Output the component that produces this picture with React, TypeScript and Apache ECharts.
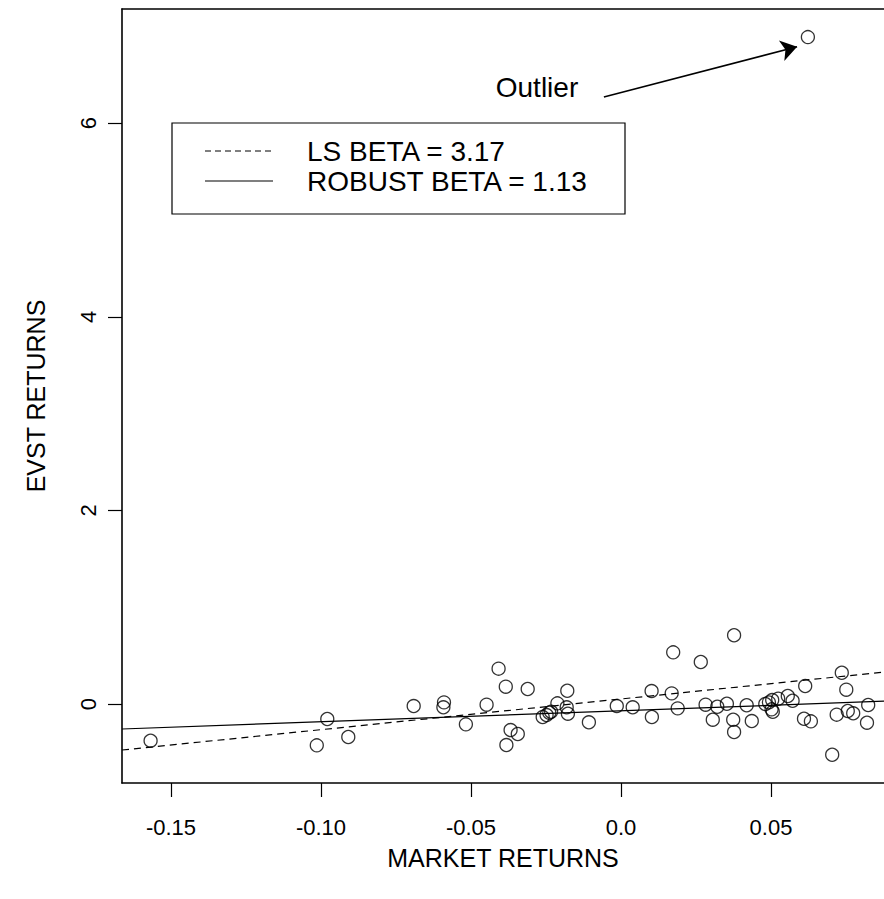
import React, { useEffect, useRef } from "react";
import * as echarts from "echarts";

const marketReturns = [
  -0.1568, -0.0979, -0.1014, -0.0909, -0.0691, -0.059, -0.0592, -0.0517, -0.0448, -0.0408,
  -0.0384, -0.0368, -0.0344, -0.0382, -0.0311, -0.0261, -0.0248, -0.0239, -0.0233, -0.0212,
  -0.0179, -0.0181, -0.0177, -0.0107, -0.0014, 0.0039, 0.0102, 0.0103, 0.0174, 0.0169,
  0.0189, 0.0266, 0.0282, 0.0306, 0.0321, 0.0353, 0.0377, 0.0374, 0.0377, 0.0419,
  0.0436, 0.0481, 0.0493, 0.0504, 0.0502, 0.0506, 0.0524, 0.0556, 0.0572, 0.0614,
  0.061, 0.0633, 0.0704, 0.0719, 0.0736, 0.0751, 0.0756, 0.0774, 0.0824, 0.082, 0.0623,
];
const evstReturns = [
  -0.379, -0.155, -0.427, -0.341, -0.021, 0.017, -0.034, -0.21, -0.007, 0.365,
  0.179, -0.269, -0.31, -0.424, 0.155, -0.134, -0.114, -0.09, -0.08, 0.007,
  0.137, -0.034, -0.1, -0.189, -0.021, -0.034, 0.134, -0.134, 0.534, 0.11,
  -0.045, 0.434, -0.007, -0.162, -0.028, 0.003, 0.71, -0.162, -0.289, -0.013,
  -0.176, 0.0, 0.017, 0.041, -0.055, -0.08, 0.055, 0.083, 0.034, 0.186,
  -0.152, -0.179, -0.524, -0.11, 0.323, 0.148, -0.072, -0.096, -0.01, -0.193, 6.89,
];

const xTickValues = [-0.15, -0.1, -0.05, 0, 0.05];
const xTickLabels = ["-0.15", "-0.10", "-0.05", "0.0", "0.05"];
const yTickValues = [0, 2, 4, 6];
const yTickLabels = ["0", "2", "4", "6"];

const lineNames = ["LS BETA = 3.17", "ROBUST BETA = 1.13"];
const lineIntercepts = [0.052, -0.07];
const lineSlopes = [3.17, 1.13];
const lineDash = [[7, 5], "solid"];

const xRange = [-0.16633, 0.08767];
const yRange = [-0.816, 7.18];

const outlierLabel = "Outlier";
const arrowFrom = [-0.0057, 6.27];
const arrowTo = [0.0587, 6.79];

const FONT = "'Liberation Sans', Arial, Helvetica, sans-serif";

function labelFor(values: number[], labels: string[], v: number) {
  const i = values.findIndex((t) => Math.abs(t - v) < 1e-9);
  return i >= 0 ? labels[i] : "";
}

export default function App() {
  const ref = useRef<HTMLDivElement>(null);
  useEffect(() => {
    document.body.style.margin = "0";
    if (!ref.current) return;
    const chart = echarts.init(ref.current, null, { renderer: "svg" });
    const points = marketReturns.map((x, i) => [x, evstReturns[i]]);
    const fitSeries = lineNames.map((name, k) => ({
      name,
      type: "line",
      symbol: "none",
      silent: true,
      data: xRange.map((x) => [x, lineIntercepts[k] + lineSlopes[k] * x]),
      lineStyle: { color: "#000", width: 1.2, type: lineDash[k] as any },
      z: 3,
    }));
    const textStyle = { color: "#000", fontFamily: FONT };
    const frameLine = { show: true, onZero: false, lineStyle: { color: "#000", width: 1.6 } };
    chart.setOption({
      animation: false,
      backgroundColor: "#fff",
      grid: { left: 122, right: 0, top: 9, bottom: 116 },
      xAxis: [
        {
          type: "value",
          position: "bottom",
          min: xRange[0],
          max: xRange[1],
          axisLine: frameLine,
          splitLine: { show: false },
          axisTick: {
            show: true,
            inside: false,
            length: 14,
            customValues: xTickValues,
            lineStyle: { color: "#000", width: 1.2 },
          },
          axisLabel: {
            customValues: xTickValues,
            formatter: (v: number) => labelFor(xTickValues, xTickLabels, v),
            margin: 33,
            fontSize: 22,
            ...textStyle,
          },
          name: "MARKET RETURNS",
          nameLocation: "middle",
          nameGap: 62,
          nameTextStyle: { fontSize: 25, ...textStyle },
        },
        {
          type: "value",
          position: "top",
          min: xRange[0],
          max: xRange[1],
          axisLine: frameLine,
          splitLine: { show: false },
          axisTick: { show: false },
          axisLabel: { show: false },
        },
      ],
      yAxis: {
        type: "value",
        min: yRange[0],
        max: yRange[1],
        axisLine: frameLine,
        splitLine: { show: false },
        axisTick: {
          show: true,
          inside: false,
          length: 14,
          customValues: yTickValues,
          lineStyle: { color: "#000", width: 1.2 },
        },
        axisLabel: {
          customValues: yTickValues,
          formatter: (v: number) => labelFor(yTickValues, yTickLabels, v),
          rotate: 90,
          margin: 23,
          fontSize: 22,
          ...textStyle,
        },
        name: "EVST RETURNS",
        nameLocation: "middle",
        nameGap: 74,
        nameTextStyle: { fontSize: 25, ...textStyle },
      },
      series: [
        {
          type: "scatter",
          data: points,
          symbol: "circle",
          symbolSize: 13,
          silent: true,
          itemStyle: { color: "transparent", borderColor: "#000", borderWidth: 1.3 },
          z: 4,
          markLine: {
            silent: true,
            symbol: ["none", "arrow"],
            symbolSize: 16,
            label: { show: false },
            lineStyle: { color: "#000", width: 1.6, type: "solid" },
            data: [[{ coord: arrowFrom }, { coord: arrowTo }]],
          },
        },
        ...fitSeries,
      ],
      graphic: [
        {
          type: "rect",
          shape: { x: 172, y: 123, width: 453, height: 91 },
          style: { fill: "#fff", stroke: "#000", lineWidth: 1.2 },
          z: 10,
        },
        {
          type: "line",
          shape: { x1: 205, y1: 151, x2: 273, y2: 151 },
          style: { stroke: "#000", lineWidth: 1.2, lineDash: [6, 4] },
          z: 11,
        },
        {
          type: "line",
          shape: { x1: 205, y1: 181, x2: 273, y2: 181 },
          style: { stroke: "#000", lineWidth: 1.2 },
          z: 11,
        },
        ...lineNames.map((name, k) => ({
          type: "text",
          x: 307,
          y: 151 + 30 * k,
          style: {
            text: name,
            font: `28px ${FONT}`,
            fill: "#000",
            textAlign: "left",
            textVerticalAlign: "middle",
            align: "left",
            verticalAlign: "middle",
          },
          z: 11,
        })),
        {
          type: "text",
          x: 537,
          y: 87,
          style: {
            text: outlierLabel,
            font: `28px ${FONT}`,
            fill: "#000",
            textAlign: "center",
            textVerticalAlign: "middle",
            align: "center",
            verticalAlign: "middle",
          },
          z: 11,
        },
      ],
    });
    return () => chart.dispose();
  }, []);
  return (
    <div
      ref={ref}
      style={{ position: "fixed", left: 0, top: 0, width: 884, height: 899 }}
    />
  );
}
